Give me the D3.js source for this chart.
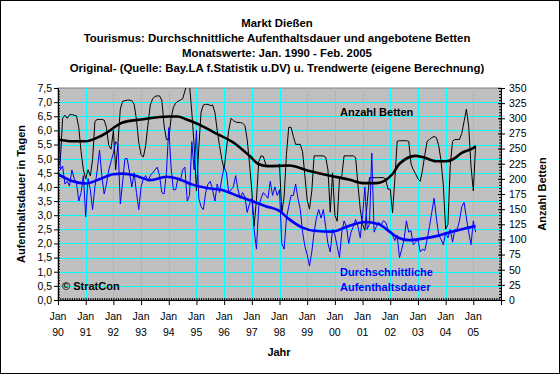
<!DOCTYPE html>
<html><head><meta charset="utf-8">
<script src="https://cdn.jsdelivr.net/npm/d3@7"></script>
<style>
body{margin:0;background:#fff;}
svg text{font-family:"Liberation Sans",Arial,sans-serif;}
</style></head>
<body><svg id="c" width="560" height="374"></svg>
<script>
// ---- data ----
const titleLines = ["Markt Dießen",
  "Tourismus: Durchschnittliche Aufenthaltsdauer und angebotene Betten",
  "Monatswerte: Jan. 1990 - Feb. 2005",
  "Original- (Quelle: Bay.LA f.Statistik u.DV) u. Trendwerte (eigene Berechnung)"];
const yearLabels = ["90","91","92","93","94","95","96","97","98","99","00","01","02","03","04","05"];
const leftTicks = [0,0.5,1,1.5,2,2.5,3,3.5,4,4.5,5,5.5,6,6.5,7,7.5];
const rightTicks = [0,25,50,75,100,125,150,175,200,225,250,275,300,325,350];
// monthly values Jan 1990 .. Feb 2005 (index 0..181)
const beds = [
 221,230,300,305,300,306,306,305,304,285,245,215,
 200,215,205,232,295,298,298,298,297,285,255,249,
 280,215,260,315,328,329,330,330,329,323,298,260,
 240,236,255,290,322,332,336,337,337,330,287,265,
 265,300,318,325,328,330,332,345,358,355,310,255,
 180,250,310,322,323,323,321,322,310,280,255,232,
 216,250,280,300,296,294,293,293,292,288,265,225,
 180,122,165,228,238,237,224,221,221,221,221,221,
 224,144,170,240,285,285,270,257,257,257,245,205,
 165,150,180,238,238,238,238,238,236,215,145,210,
 140,130,200,205,238,238,238,238,238,235,190,150,
 125,115,160,202,202,202,202,202,202,202,200,183,
 183,144,200,262,263,263,263,263,262,225,215,208,
 200,196,215,240,262,265,268,270,268,255,230,190,
 117,125,222,262,265,265,265,275,295,315,287,221,
 180,255];
const stay = [
 7.5,4.6,4.74,4.1,4.2,4.03,4.6,4.3,4.15,3.5,3.8,4.4,
 2.95,4.3,3.9,3.2,4.0,4.6,5.3,4.4,3.75,4.1,4.6,4.9,
 5.2,5.6,5.5,3.4,4.15,5.0,5.0,4.5,4.0,4.5,3.8,3.2,
 4.0,4.3,4.4,4.2,4.4,4.5,4.6,4.7,4.4,3.8,3.75,4.5,
 6.1,4.7,3.9,3.9,4.3,4.2,4.6,4.7,3.5,3.7,5.6,4.6,
 6.0,3.6,3.3,3.2,3.8,4.1,4.2,3.9,3.5,4.1,3.8,4.3,
 4.7,4.5,3.8,3.9,4.0,4.4,3.9,3.6,3.8,3.65,3.1,3.4,
 3.6,2.5,1.8,3.3,3.6,3.8,3.7,3.6,4.2,3.7,4.0,3.7,
 3.9,2.0,1.8,2.9,3.3,3.7,3.7,4.1,3.6,3.2,2.4,1.9,
 1.6,1.2,1.7,2.4,2.9,3.2,2.9,3.2,2.6,2.0,1.7,2.5,
 2.3,1.9,1.5,2.4,2.8,2.6,2.0,2.4,2.6,2.85,2.6,2.2,
 3.0,4.0,2.5,2.7,5.2,2.4,2.6,2.75,2.65,2.8,2.75,2.5,
 2.4,2.3,2.1,2.3,1.5,1.8,2.15,2.8,2.4,2.45,1.95,2.05,
 2.15,1.7,1.8,1.75,2.15,2.6,3.1,3.6,2.9,2.3,2.15,1.95,
 2.4,2.2,2.5,2.05,2.5,2.5,2.8,3.3,3.45,2.9,2.4,1.95,
 2.8,2.4];
// trend values read at month indices
const trendBedsM = [0,6,12,17,21,24,28,36,48,52,55,61,68,76,83,87,91,100,109,118,126,132,138,145,148,155,158,164,168,171,175,180,181];
const trendBedsV = [265,262,262,268,276,284,293,298,303,303,299,290,276,260,238,224,221,222,213,205,199,193,193,208,225,238,236,229,229,232,243,251,254];
const trendStayM = [0,6,12,18,24,28,34,40,47,52,58,64,71,78,84,90,96,100,106,111,119,126,133,139,144,147,152,158,164,169,175,181];
const trendStayV = [4.45,4.21,4.12,4.27,4.45,4.47,4.39,4.24,4.36,4.29,4.09,3.97,3.89,3.68,3.5,3.32,3.15,2.87,2.56,2.45,2.42,2.62,2.76,2.68,2.4,2.22,2.12,2.17,2.26,2.38,2.5,2.62];

// ---- layout ----
const svg = d3.select("#c");
const L=58, R=501, T=88, B=300;
const x = d3.scaleLinear().domain([0,192]).range([L,R]);
const yL = d3.scaleLinear().domain([0,7.5]).range([B,T]);
const yR = d3.scaleLinear().domain([0,350]).range([B,T]);
const fmt = d3.format(".1f");

svg.append("rect").attr("x",0.5).attr("y",0.5).attr("width",559).attr("height",373)
  .attr("fill","#fff").attr("stroke","#000");

// titles
const tY=[27,42,57,72];
svg.selectAll("text.title").data(titleLines).join("text").attr("class","title")
  .attr("x",277).attr("y",(d,i)=>tY[i]).attr("text-anchor","middle")
  .attr("font-size","11.4px").attr("font-weight","bold").text(d=>d);

// plot area
svg.append("rect").attr("x",L).attr("y",T).attr("width",R-L).attr("height",B-T)
  .attr("fill","#C0C0C0").attr("stroke","#808080");

// grid
const grid = svg.append("g");
grid.selectAll("line.h").data(leftTicks.slice(1,-1)).join("line")
  .attr("x1",L).attr("x2",R).attr("y1",d=>Math.round(yL(d))+0.5).attr("y2",d=>Math.round(yL(d))+0.5)
  .attr("stroke","#00FFFF");
grid.selectAll("line.v").data(d3.range(1,16)).join("line")
  .attr("y1",T).attr("y2",B).attr("x1",d=>Math.round(x(d*12))+0.5).attr("x2",d=>Math.round(x(d*12))+0.5)
  .attr("stroke","#00FFFF");

// clip
svg.append("clipPath").attr("id","pc").append("rect").attr("x",L).attr("y",T).attr("width",R-L).attr("height",B-T);
const plot = svg.append("g").attr("clip-path","url(#pc)");

const lineBeds = d3.line().x((d,i)=>x(i)).y(d=>yR(d));
const lineStay = d3.line().x((d,i)=>x(i)).y(d=>yL(d));
plot.append("path").datum(beds).attr("d",lineBeds).attr("fill","none").attr("stroke","#000").attr("stroke-width",1);
plot.append("path").datum(stay).attr("d",lineStay).attr("fill","none").attr("stroke","#0000FF").attr("stroke-width",1);

const tb = trendBedsM.map((m,i)=>[m,trendBedsV[i]]);
const ts = trendStayM.map((m,i)=>[m,trendStayV[i]]);
plot.append("path").datum(tb).attr("d",d3.line().curve(d3.curveMonotoneX).x(d=>x(d[0])).y(d=>yR(d[1])))
  .attr("fill","none").attr("stroke","#000").attr("stroke-width",2.6);
plot.append("path").datum(ts).attr("d",d3.line().curve(d3.curveMonotoneX).x(d=>x(d[0])).y(d=>yL(d[1])))
  .attr("fill","none").attr("stroke","#0000FF").attr("stroke-width",2.6);

// axes
svg.append("g").attr("transform",`translate(${L},0)`)
  .call(d3.axisLeft(yL).tickValues(leftTicks).tickFormat(d=>fmt(d).replace(".",",")).tickSize(4).tickPadding(2));
svg.append("g").attr("transform",`translate(${L},0)`)
  .call(d3.axisRight(yL).tickValues(d3.range(0,75).map(i=>i*0.1)).tickFormat("").tickSize(2))
  .call(g=>g.select(".domain").remove());
svg.append("g").attr("transform",`translate(${R},0)`)
  .call(d3.axisRight(yR).tickValues(rightTicks).tickSize(4).tickPadding(4));
svg.append("g").attr("transform",`translate(${R},0)`)
  .call(d3.axisLeft(yR).tickValues(rightTicks).tickFormat("").tickSize(3))
  .call(g=>g.select(".domain").remove());
svg.append("g").attr("transform",`translate(${R},0)`)
  .call(d3.axisLeft(yR).tickValues(d3.range(0,70).map(i=>i*5)).tickFormat("").tickSize(2))
  .call(g=>g.select(".domain").remove());
svg.append("g").attr("transform",`translate(0,${B})`)
  .call(d3.axisBottom(x).tickValues(d3.range(0,16).map(i=>i*12)).tickFormat("").tickSize(5));
svg.append("g").attr("transform",`translate(0,${B})`)
  .call(d3.axisTop(x).tickValues(d3.range(0,192)).tickFormat("").tickSize(2))
  .call(g=>g.select(".domain").remove());
svg.selectAll(".domain").attr("stroke","#000");
svg.selectAll(".tick line").attr("stroke","#000");
svg.selectAll(".tick text").attr("font-size","10.5px").attr("font-family","Liberation Sans, Arial, sans-serif").attr("fill","#000");

// x labels
const xl = svg.append("g");
yearLabels.forEach((lab,i)=>{
  xl.append("text").attr("x",x(i*12)).attr("y",320).attr("text-anchor","middle").attr("font-size","10.5px").text("Jan");
  xl.append("text").attr("x",x(i*12)).attr("y",335.5).attr("text-anchor","middle").attr("font-size","10.5px").text(lab);
});

// axis titles
svg.append("text").attr("x",279).attr("y",356).attr("text-anchor","middle").attr("font-size","11px").attr("font-weight","bold").text("Jahr");
svg.append("text").attr("transform","translate(25,194) rotate(-90)").attr("text-anchor","middle").attr("font-size","11px").attr("font-weight","bold").text("Aufenthaltsdauer in Tagen");
svg.append("text").attr("transform","translate(546,194) rotate(-90)").attr("text-anchor","middle").attr("font-size","11px").attr("font-weight","bold").text("Anzahl Betten");

// in-plot labels
svg.append("text").attr("x",340).attr("y",116).attr("font-size","11px").attr("font-weight","bold").text("Anzahl Betten");
svg.append("text").attr("x",340).attr("y",276).attr("font-size","11px").attr("font-weight","bold").attr("fill","#0000FF").text("Durchschnittliche");
svg.append("text").attr("x",340).attr("y",291).attr("font-size","11px").attr("font-weight","bold").attr("fill","#0000FF").text("Aufenthaltsdauer");
svg.append("text").attr("x",62).attr("y",290).attr("font-size","11px").attr("font-weight","bold").text("© StratCon");
</script></body></html>
